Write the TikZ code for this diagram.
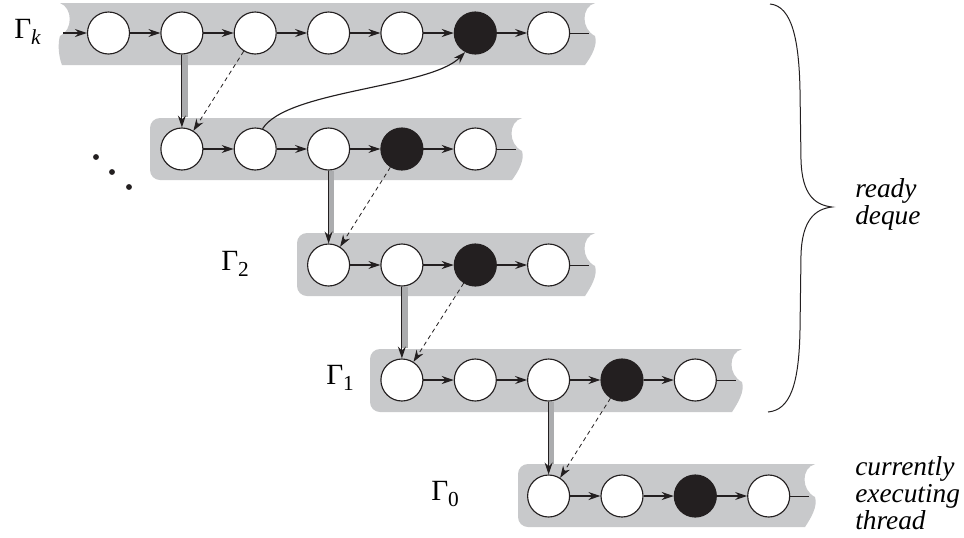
\documentclass[tikz,border=0pt]{standalone}
\usepackage{fontspec}
\setmainfont{Liberation Serif}
\usetikzlibrary{arrows.meta}
\definecolor{band}{HTML}{C8C9CB}
\definecolor{ink}{HTML}{231F20}
\definecolor{spawngray}{HTML}{ABACAE}
\tikzset{
  wc/.style={circle, draw=ink, fill=white, line width=0.85pt, minimum size=31.5pt, inner sep=0pt},
  bc/.style={wc, fill=ink},
  tip/.style={-{Stealth[length=9pt,width=6pt,inset=3pt]}},
  link/.style={draw=ink, line width=0.85pt, tip},
  plain/.style={draw=ink, line width=0.65pt},
  steal/.style={draw=ink, line width=0.6pt, dash pattern=on 3.2pt off 2.6pt, tip},
  spawnbar/.style={draw=spawngray, line width=4.5pt},
  glabel/.style={anchor=base west, inner sep=0pt, font=\fontsize{22}{22}\selectfont},
  side/.style={anchor=base west, inner sep=0pt, font=\fontsize{20.5}{20.5}\selectfont\itshape},
}
\newcommand\rowband[4]{% L T R B
  \fill[band] ({#3-10},#4) -- ({#1+10},#4) .. controls ({#1+4.5},#4) and (#1,{#4-4.5}) .. (#1,{#4-10})
    -- (#1,{#2+10}) .. controls (#1,{#2+4.5}) and ({#1+4.5},#2) .. ({#1+10},#2) -- (#3,#2)
    .. controls ({#3-14},{#2+4}) and ({#3-14},{#2+26}) .. (#3,{#2+33})
    .. controls ({#3+3},{#2+42}) and ({#3-4},{#2+54}) .. ({#3-10},#4) -- cycle;}
\begin{document}
\begin{tikzpicture}[x=0.75pt,y=-0.75pt]
\useasboundingbox (0,0) rectangle (964,537);
\fill[white] (0,0) rectangle (964,537);

% bands
\fill[band] (585,65) -- (62,65) .. controls (58,55) and (58,42) .. (60,36)
  .. controls (73,30) and (73,8) .. (60,3) -- (595,3)
  .. controls (581,7) and (581,29) .. (595,36)
  .. controls (598,45) and (591,57) .. (585,65) -- cycle;
\rowband{150}{118}{522}{180}
\rowband{297}{233}{595}{296}
\rowband{370}{349}{742}{412}
\rowband{518}{464}{815}{527}

% Gamma_k row
\node[wc] (k1) at (108.5,33) {};
\node[wc] (k2) at (181.9,33) {};
\node[wc] (k3) at (255.2,33) {};
\node[wc] (k4) at (328.6,33) {};
\node[wc] (k5) at (401.9,33) {};
\node[bc] (k6) at (475.3,33) {};
\node[wc] (k7) at (548.6,33) {};
\coordinate (kin) at (63,33);
\coordinate (kout) at (589,33);

% second row
\node[wc] (m1) at (181.9,149) {};
\node[wc] (m2) at (255.2,149) {};
\node[wc] (m3) at (328.6,149) {};
\node[bc] (m4) at (401.9,149) {};
\node[wc] (m5) at (475.3,149) {};
\coordinate (mout) at (516,149);

% Gamma_2 row
\node[wc] (b1) at (328.6,265) {};
\node[wc] (b2) at (401.9,265) {};
\node[bc] (b3) at (475.3,265) {};
\node[wc] (b4) at (548.6,265) {};
\coordinate (bout) at (589,265);

% Gamma_1 row
\node[wc] (a1) at (401.9,380) {};
\node[wc] (a2) at (475.3,380) {};
\node[wc] (a3) at (548.6,380) {};
\node[bc] (a4) at (622,380) {};
\node[wc] (a5) at (695.3,380) {};
\coordinate (aout) at (736,380);

% Gamma_0 row
\node[wc] (z1) at (548.6,496) {};
\node[wc] (z2) at (622,496) {};
\node[bc] (z3) at (695.3,496) {};
\node[wc] (z4) at (768.7,496) {};
\coordinate (zout) at (809,496);

% chain links
\draw[link] (kin) -- (k1);
\draw[link] (k1) -- (k2);
\draw[link] (k2) -- (k3);
\draw[link] (k3) -- (k4);
\draw[link] (k4) -- (k5);
\draw[link] (k5) -- (k6);
\draw[link] (k6) -- (k7);
\draw[plain] (k7) -- (kout);
\draw[link] (m1) -- (m2);
\draw[link] (m2) -- (m3);
\draw[link] (m3) -- (m4);
\draw[link] (m4) -- (m5);
\draw[plain] (m5) -- (mout);
\draw[link] (b1) -- (b2);
\draw[link] (b2) -- (b3);
\draw[link] (b3) -- (b4);
\draw[plain] (b4) -- (bout);
\draw[link] (a1) -- (a2);
\draw[link] (a2) -- (a3);
\draw[link] (a3) -- (a4);
\draw[link] (a4) -- (a5);
\draw[plain] (a5) -- (aout);
\draw[link] (z1) -- (z2);
\draw[link] (z2) -- (z3);
\draw[link] (z3) -- (z4);
\draw[plain] (z4) -- (zout);

% spawn arrows (gray bar + black line)
\draw[spawnbar] ([xshift=2pt]k2.south) -- ([xshift=2pt,yshift=8pt]m1.north);
\draw[link] (k2) -- (m1);
\draw[spawnbar] ([xshift=2pt]m3.south) -- ([xshift=2pt,yshift=8pt]b1.north);
\draw[link] (m3) -- (b1);
\draw[spawnbar] ([xshift=2pt]b2.south) -- ([xshift=2pt,yshift=8pt]a1.north);
\draw[link] (b2) -- (a1);
\draw[spawnbar] ([xshift=2pt]a3.south) -- ([xshift=2pt,yshift=8pt]z1.north);
\draw[link] (a3) -- (z1);

% dashed arrows
\draw[steal] (k3) -- (m1);
\draw[steal] (m4) -- (b1);
\draw[steal] (b3) -- (a1);
\draw[steal] (a4) -- (z1);

% curved arrow
\draw[link] (m2.70) .. controls (287,90) and (430,88) .. (k6.-118);

% labels
\node[glabel] (gk) at (14,38) {Γ\raisebox{-5pt}{\fontsize{16}{16}\selectfont\itshape k}};
\node[glabel] (g2) at (221,270) {Γ\raisebox{-4.5pt}{\fontsize{16}{16}\selectfont 2}};
\node[glabel] (g1) at (326,384) {Γ\raisebox{-4.5pt}{\fontsize{16}{16}\selectfont 1}};
\node[glabel] (g0) at (431,500) {Γ\raisebox{-4.5pt}{\fontsize{16}{16}\selectfont 0}};

% ellipsis dots
\fill[ink] (96,157) circle[radius=2.2pt];
\fill[ink] (112,172) circle[radius=2.2pt];
\fill[ink] (129,187) circle[radius=2.2pt];

% brace
\draw[ink, line width=0.75pt] (770,4) .. controls (792,6) and (799,40) .. (800,90) -- (801,160)
  .. controls (802,195) and (815,205) .. (832,207)
  .. controls (815,209) and (802,220) .. (801,255) -- (800,330)
  .. controls (799,385) and (790,410) .. (768,412);

% side texts
\node[side] (r1) at (855,197) {ready};
\node[side] (r2) at (855,224) {deque};
\node[side] (c1) at (855,475) {currently};
\node[side] (c2) at (855,502) {executing};
\node[side] (c3) at (855,529) {thread};
\end{tikzpicture}
\end{document}
